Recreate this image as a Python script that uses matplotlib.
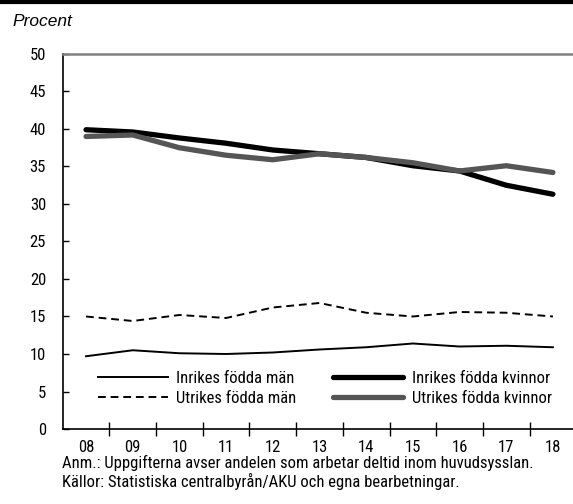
import matplotlib
matplotlib.use('Agg')
import matplotlib.pyplot as plt
from matplotlib.lines import Line2D

# Condensed look of the original
plt.rcParams['font.family'] = ['Roboto Condensed', 'PT Sans Narrow', 'DejaVu Sans']

years = ['08', '09', '10', '11', '12', '13', '14', '15', '16', '17', '18']

inrikes_man = [9.7, 10.5, 10.1, 10.0, 10.2, 10.6, 10.9, 11.4, 11.0, 11.1, 10.9]
utrikes_man = [15.0, 14.4, 15.2, 14.8, 16.2, 16.8, 15.5, 15.0, 15.6, 15.5, 15.0]
inrikes_kvinnor = [39.9, 39.6, 38.8, 38.1, 37.2, 36.7, 36.2, 35.1, 34.4, 32.5, 31.3]
utrikes_kvinnor = [39.0, 39.2, 37.5, 36.5, 35.9, 36.7, 36.2, 35.5, 34.4, 35.1, 34.2]

labels = ['Inrikes födda män', 'Utrikes födda män',
          'Inrikes födda kvinnor', 'Utrikes födda kvinnor']

grey = '#555555'
fs = 12

fig = plt.figure(figsize=(5.73, 5.04), dpi=100)
ax = fig.add_axes([0.1094, 0.1488, 0.8906, 0.7441])

x = list(range(len(years)))
ax.plot(x, inrikes_man, color='black', lw=1.4, label=labels[0])
ax.plot(x, utrikes_man, color='black', lw=1.4, ls=(0, (4, 2.5)), label=labels[1])
ax.plot(x, inrikes_kvinnor, color='black', lw=3.8, solid_capstyle='round', label=labels[2])
ax.plot(x, utrikes_kvinnor, color=grey, lw=3.8, solid_capstyle='round', label=labels[3])

ax.set_xlim(-0.5, 10.43)
ax.set_ylim(0, 50)
ax.set_yticks(range(0, 55, 5))
ax.tick_params(axis='y', direction='in', length=4, width=1, pad=12, labelsize=fs)

# categorical axis: ticks between the year labels
ax.set_xticks(x)
ax.set_xticklabels(years)
ax.set_xticks([i + 0.5 for i in x[:-1]], minor=True)
ax.tick_params(axis='x', which='major', length=0, pad=8, labelsize=fs)
ax.tick_params(axis='x', which='minor', direction='inout', length=10, width=1)

ax.spines['right'].set_visible(False)
ax.spines['top'].set_color('#808080')
ax.spines['top'].set_linewidth(1.8)
ax.spines['left'].set_linewidth(1.2)
ax.spines['bottom'].set_linewidth(1.2)

ax.legend(ncol=2, loc='upper left', bbox_to_anchor=(0.171, 0.264),
          bbox_transform=fig.transFigure, frameon=False, fontsize=fs,
          handlelength=4.2, handletextpad=0.5, columnspacing=2.2,
          labelspacing=0.3, borderpad=0, borderaxespad=0)

# thick rule across the top
fig.add_artist(Line2D([0, 1], [0.997, 0.997], transform=fig.transFigure,
                      color='black', lw=3))

fig.text(0.021, 0.957, 'Procent', fontsize=12.5, style='italic',
         family=['Liberation Sans', 'DejaVu Sans'], va='center', ha='left')

fig.text(0.108, 0.081, 'Anm.: Uppgifterna avser andelen som arbetar deltid inom huvudsysslan.',
         fontsize=fs, va='center', ha='left')
fig.text(0.108, 0.044, 'Källor: Statistiska centralbyrån/AKU och egna bearbetningar.',
         fontsize=fs, va='center', ha='left')

fig.savefig('out.png', dpi=100)
